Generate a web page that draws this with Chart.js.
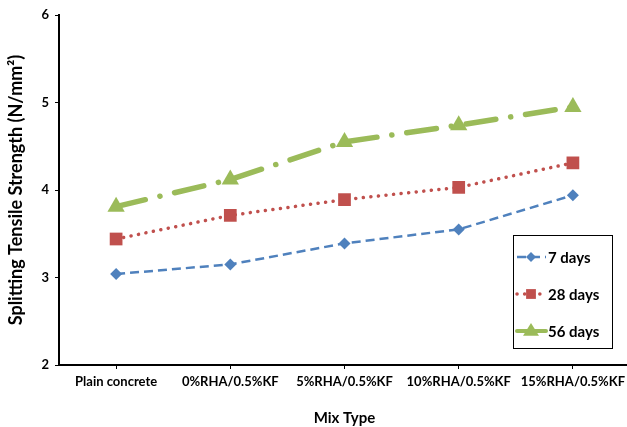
<!DOCTYPE html>
<html>
<head>
<meta charset="utf-8">
<script src="https://cdn.jsdelivr.net/npm/chart.js@4.4.1/dist/chart.umd.min.js"></script>
<style>
  html, body { margin: 0; padding: 0; background: #fff; overflow: hidden; }
  #wrap { width: 640px; height: 427px; }
</style>
</head>
<body>
<div id="wrap"><canvas id="chart" width="640" height="427"></canvas></div>
<script>
// chart values
const mixTypes = ['Plain concrete', '0%RHA/0.5%KF', '5%RHA/0.5%KF', '10%RHA/0.5%KF', '15%RHA/0.5%KF'];
const days7 = [3.04, 3.15, 3.39, 3.55, 3.94];
const days28 = [3.44, 3.71, 3.89, 4.03, 4.31];
const days56 = [3.81, 4.12, 4.55, 4.74, 4.95];
const yTicks = [2, 3, 4, 5, 6];

const fontFamily = 'Lato, "Open Sans", sans-serif';

function drawMarker(ctx, style, r, x, y) {
    ctx.beginPath();
    if (style === 'rect') {
        ctx.rect(x - r * 0.7, y - r * 0.7, r * 1.4, r * 1.4);
    } else if (style === 'rectRot') {
        ctx.moveTo(x, y - r); ctx.lineTo(x + r, y); ctx.lineTo(x, y + r); ctx.lineTo(x - r, y);
        ctx.closePath();
    } else {
        ctx.moveTo(x, y - r); ctx.lineTo(x + r, y + r * 0.6); ctx.lineTo(x - r, y + r * 0.6);
        ctx.closePath();
    }
    ctx.fill();
}

// legend box drawn by hand so the sample shows the dash pattern and marker
const boxLegend = {
    id: 'boxLegend',
    afterDraw(chart) {
        const ctx = chart.ctx;
        const x0 = 513, y0 = 235, w = 99, h = 113;
        ctx.save();
        ctx.fillStyle = '#fff';
        ctx.fillRect(x0, y0, w, h);
        ctx.strokeStyle = '#000';
        ctx.lineWidth = 1;
        ctx.strokeRect(x0 + 0.5, y0 + 0.5, w, h);
        const markerR = [5, 7, 8];
        chart.data.datasets.forEach((ds, i) => {
            const cy = y0 + 22 + i * 37;
            ctx.strokeStyle = ds.borderColor;
            ctx.lineWidth = Math.min(ds.borderWidth, 4);
            ctx.lineCap = ds.borderCapStyle || 'butt';
            ctx.setLineDash(i === 2 ? [] : (ds.borderDash || []));
            ctx.beginPath();
            ctx.moveTo(x0 + 4, cy);
            ctx.lineTo(x0 + 33, cy);
            ctx.stroke();
            ctx.setLineDash([]);
            ctx.fillStyle = ds.pointBackgroundColor;
            drawMarker(ctx, ds.pointStyle, markerR[i], x0 + 18, cy);
            ctx.fillStyle = '#000';
            ctx.font = 'bold 15px ' + fontFamily;
            ctx.textBaseline = 'middle';
            ctx.fillText(ds.label, x0 + 35, cy + 1);
        });
        ctx.restore();
    }
};

new Chart(document.getElementById('chart'), {
    type: 'line',
    data: {
        labels: mixTypes,
        datasets: [
            {
                label: '7 days',
                data: days7,
                borderColor: '#4F81BD',
                borderWidth: 2.5,
                borderDash: [9, 5],
                pointStyle: 'rectRot',
                pointRadius: 6,
                pointBackgroundColor: '#4F81BD',
                pointBorderColor: '#4F81BD',
                pointBorderWidth: 0
            },
            {
                label: '28 days',
                data: days28,
                borderColor: '#C0504D',
                borderWidth: 3.5,
                borderDash: [0.1, 7.5],
                borderCapStyle: 'round',
                pointStyle: 'rect',
                pointRadius: 9,
                pointBackgroundColor: '#C0504D',
                pointBorderColor: '#C0504D',
                pointBorderWidth: 0
            },
            {
                label: '56 days',
                data: days56,
                borderColor: '#9BBB59',
                borderWidth: 5.5,
                borderDash: [30, 15, 0.1, 15],
                borderCapStyle: 'round',
                pointStyle: 'triangle',
                pointRadius: 10,
                pointBackgroundColor: '#9BBB59',
                pointBorderColor: '#9BBB59',
                pointBorderWidth: 0
            }
        ]
    },
    options: {
        responsive: false,
        animation: false,
        layout: { padding: { top: 15, right: 8, left: 5, bottom: 0 } },
        plugins: { legend: { display: false }, tooltip: { enabled: false } },
        elements: { line: { tension: 0 } },
        scales: {
            x: {
                offset: true,
                grid: { display: true, drawOnChartArea: false, offset: false, color: '#000', tickLength: 4, lineWidth: 1 },
                border: { color: '#000', width: 2 },
                ticks: { color: '#000', font: { family: fontFamily, size: 13, weight: 'bold' }, maxRotation: 0, autoSkip: false, padding: 5 },
                title: { display: true, text: 'Mix Type', color: '#000', font: { family: fontFamily, size: 15, weight: 'bold' }, padding: { top: 19, bottom: 0 } },
                afterFit: s => { s.height = 62; }
            },
            y: {
                min: 2,
                max: 6,
                afterBuildTicks: s => { s.ticks = yTicks.map(v => ({ value: v })); },
                grid: { display: true, drawOnChartArea: false, color: '#000', tickLength: 4 },
                border: { color: '#000', width: 2 },
                ticks: { color: '#000', font: { family: fontFamily, size: 13, weight: 'bold' }, padding: 6 },
                title: { display: true, text: 'Splitting Tensile Strength (N/mm\u00B2)', color: '#000', font: { family: fontFamily, size: 18, weight: 'bold' }, padding: 0 },
                afterFit: s => { s.width = 54; }
            }
        }
    },
    plugins: [boxLegend]
});
</script>
</body>
</html>
